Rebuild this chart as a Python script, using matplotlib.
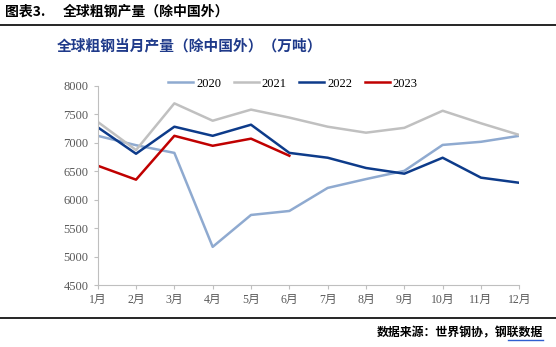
import matplotlib.pyplot as plt
from matplotlib.lines import Line2D

# monthly crude steel output excl. China (10k tonnes)
months = ['1月', '2月', '3月', '4月', '5月', '6月', '7月', '8月', '9月', '10月', '11月', '12月']
y2020 = [7120, 6955, 6820, 5170, 5730, 5800, 6205, 6360, 6505, 6960, 7015, 7120]
y2021 = [7365, 6870, 7690, 7385, 7580, 7440, 7280, 7175, 7260, 7560, 7340, 7135]
y2022 = [7270, 6805, 7280, 7120, 7315, 6820, 6735, 6555, 6455, 6735, 6385, 6295]
y2023 = [6595, 6350, 7120, 6945, 7070, 6770]

series = [('2020', y2020, '#8faad0'),
          ('2021', y2021, '#c0c0c0'),
          ('2022', y2022, '#0d3b8a'),
          ('2023', y2023, '#c00000')]

W, H = 556, 347
fig = plt.figure(figsize=(W / 100, H / 100), dpi=100)
ax = fig.add_axes([97.7 / W, 1 - 285 / H, (519.3 - 97.7) / W, (285 - 85.7) / H])

x = list(range(len(months)))
for name, vals, col in series:
    ax.plot(x[:len(vals)], vals, color=col, lw=1.8, label=name)

ax.set_xlim(0, 11)
ax.set_ylim(4500, 8000)
ax.set_yticks(range(4500, 8001, 500))
ax.set_xticks(x)
ax.set_xticklabels(months)
for s in ['top', 'right']:
    ax.spines[s].set_visible(False)
for s in ['left', 'bottom']:
    ax.spines[s].set_color('#bfbfbf')
ax.tick_params(colors='#bfbfbf', length=3, labelcolor='#595959')
for lab in ax.get_yticklabels():
    lab.set_family(['Liberation Serif'])
    lab.set_fontsize(9)
for lab in ax.get_xticklabels():
    lab.set_family(['Liberation Serif', 'Noto Sans CJK SC'])
    lab.set_fontsize(8.5)

leg = ax.legend(loc='center', bbox_to_anchor=(0.463, 1.011), ncol=4, frameon=False,
                prop={'family': 'Liberation Serif', 'size': 9}, handlelength=2.0,
                columnspacing=1.0, handletextpad=0.25)
leg.set_clip_on(False)

# header and footer
fig.text(5 / W, 1 - 12 / H, '图表3.', family='Noto Sans CJK SC',
         fontweight='bold', fontsize=10, va='center', ha='left', color='black')
fig.text(63 / W, 1 - 12 / H, '全球粗钢产量（除中国外）', family='Noto Sans CJK SC',
         fontweight='bold', fontsize=10, va='center', ha='left', color='black')
fig.add_artist(Line2D([0, 1], [1 - 25 / H] * 2, color='black', lw=1.2))
fig.text(57 / W, 1 - 45 / H, '全球粗钢当月产量（除中国外）（万吨）', family='Noto Sans CJK SC',
         fontweight='bold', fontsize=10.6, va='center', ha='left', color='#1f3a8a')
fig.add_artist(Line2D([0, 1], [1 - 318 / H] * 2, color='black', lw=1.2))
fig.text(543 / W, 1 - 333 / H, '数据来源：世界钢协，钢联数据', family='Noto Sans CJK SC',
         fontweight='bold', fontsize=8.6, va='center', ha='right', color='black')
fig.add_artist(Line2D([508 / W, 543 / W], [1 - 340 / H] * 2, color='#2f5fd0', lw=1))

fig.savefig('out.png', dpi=100)
